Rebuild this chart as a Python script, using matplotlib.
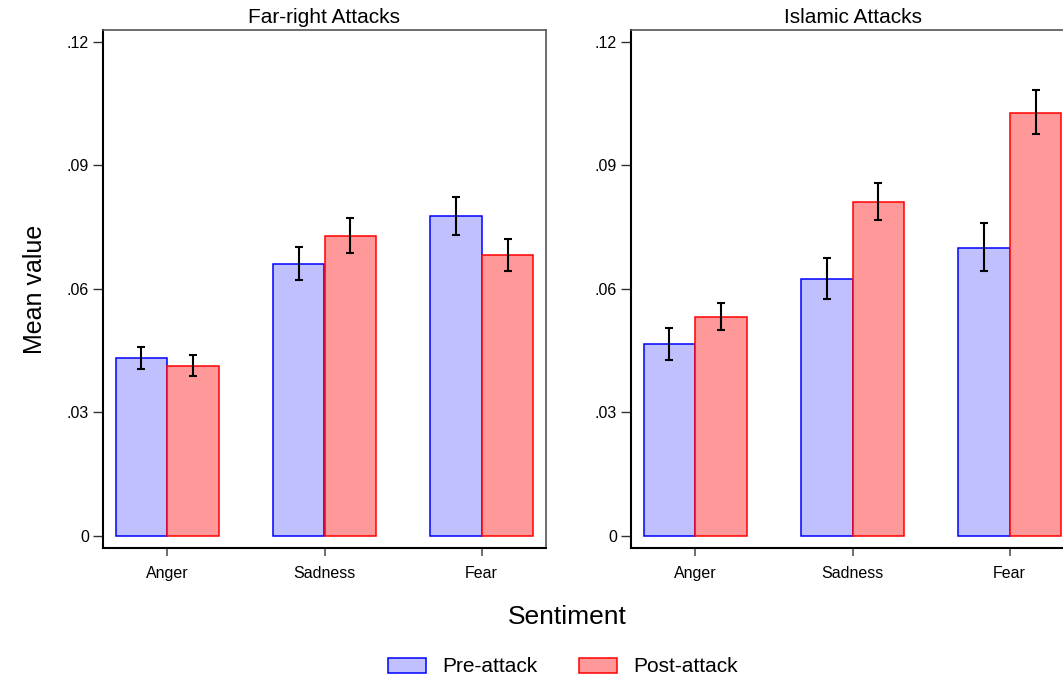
import matplotlib.pyplot as plt
import numpy as np

plt.rcParams['font.family'] = ['Liberation Sans', 'DejaVu Sans']

categories = ["Anger", "Sadness", "Fear"]
panels = ["Far-right Attacks", "Islamic Attacks"]

# mean values and confidence bounds
far_pre = [0.0431, 0.0661, 0.0776]
far_pre_lo = [0.0405, 0.0622, 0.0731]
far_pre_hi = [0.0459, 0.0701, 0.0823]
far_post = [0.0413, 0.0728, 0.0681]
far_post_lo = [0.0389, 0.0687, 0.0644]
far_post_hi = [0.0440, 0.0771, 0.0721]

isl_pre = [0.0465, 0.0624, 0.0700]
isl_pre_lo = [0.0427, 0.0575, 0.0643]
isl_pre_hi = [0.0505, 0.0675, 0.0760]
isl_post = [0.0531, 0.0811, 0.1028]
isl_post_lo = [0.0499, 0.0768, 0.0976]
isl_post_hi = [0.0565, 0.0856, 0.1083]

yticks = [0, 0.03, 0.06, 0.09, 0.12]
ytick_labels = ["0", ".03", ".06", ".09", ".12"]

pre_fill, pre_edge = "#C0C0FF", "#0000FF"
post_fill, post_edge = "#FF9999", "#FF0000"

W, H = 1063, 679
fig = plt.figure(figsize=(W / 100, H / 100), dpi=100)

axes = [
    fig.add_axes([103 / W, (H - 548) / H, 443 / W, 518 / H]),
    fig.add_axes([631 / W, (H - 548) / H, 443 / W, 518 / H]),
]

data = [
    (far_pre, far_pre_lo, far_pre_hi, far_post, far_post_lo, far_post_hi),
    (isl_pre, isl_pre_lo, isl_pre_hi, isl_post, isl_post_lo, isl_post_hi),
]

x = np.arange(len(categories))
bw = 0.33
for ax, title, d in zip(axes, panels, data):
    pre, pre_lo, pre_hi, post, post_lo, post_hi = [np.array(v) for v in d]
    ax.bar(x - bw / 2, pre, bw, color=pre_fill, edgecolor=pre_edge, linewidth=1.1,
           label="Pre-attack", zorder=2)
    ax.bar(x + bw / 2, post, bw, color=post_fill, edgecolor=post_edge, linewidth=1.1,
           label="Post-attack", zorder=2)
    ax.errorbar(x - bw / 2, pre, yerr=[pre - pre_lo, pre_hi - pre], fmt="none",
                ecolor="black", elinewidth=1.5, capsize=2.7, capthick=1.5, zorder=3)
    ax.errorbar(x + bw / 2, post, yerr=[post - post_lo, post_hi - post], fmt="none",
                ecolor="black", elinewidth=1.5, capsize=2.7, capthick=1.5, zorder=3)
    ax.set_xlim(-0.41, 2.41)
    ax.set_ylim(-0.003, 0.1229)
    ax.set_xticks(x)
    ax.set_xticklabels(categories, fontsize=11.5)
    ax.set_yticks(yticks)
    ax.set_yticklabels(ytick_labels, fontsize=11.5)
    ax.tick_params(axis="y", direction="out", length=7, width=1, colors="#333333",
                   labelcolor="black", pad=3)
    ax.tick_params(axis="x", direction="out", length=6, width=1.2, colors="#555555",
                   labelcolor="black", pad=7)
    for s in ["left", "bottom"]:
        ax.spines[s].set_color("black")
        ax.spines[s].set_linewidth(1.5)
    for s in ["top", "right"]:
        ax.spines[s].set_color("#555555")
        ax.spines[s].set_linewidth(1.2)
    ax.set_title(title, fontsize=15, pad=5)

fig.text(35 / W, 1 - 289 / H, "Mean value", rotation=90, fontsize=18,
         ha="center", va="center")
fig.text(567 / W, 1 - 617 / H, "Sentiment", fontsize=19, ha="center", va="center")

handles, labels = axes[0].get_legend_handles_labels()
fig.legend(handles, labels, loc="center", bbox_to_anchor=(563 / W, 1 - 667 / H),
           ncol=2, frameon=False, fontsize=15, handlelength=1.8, handleheight=0.7,
           columnspacing=2.0, handletextpad=0.8)

fig.savefig("out.png", dpi=100)
